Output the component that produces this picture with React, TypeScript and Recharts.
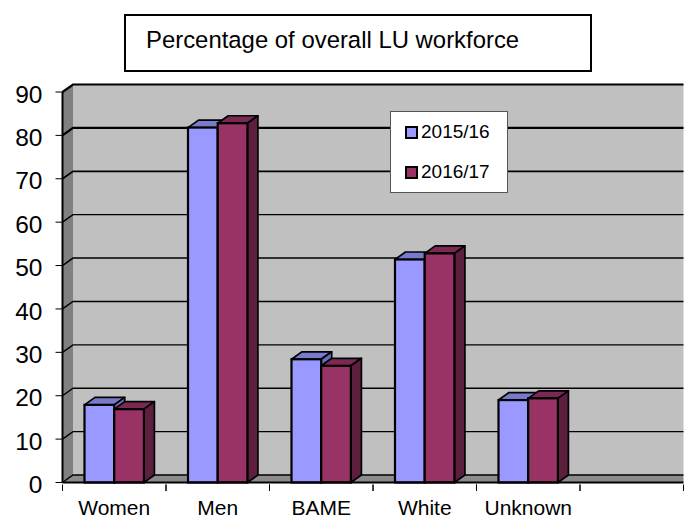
import React from "react";
import { BarChart, Bar, XAxis, YAxis, CartesianGrid, Legend } from "recharts";

const categories = ["Women", "Men", "BAME", "White", "Unknown", ""];
const series2015 = [17.9, 81.8, 28.4, 51.4, 19.0, null];
const series2016 = [16.9, 82.8, 26.9, 52.8, 19.4, null];
const yTicks = [0, 10, 20, 30, 40, 50, 60, 70, 80, 90];
const titleText = "Percentage of overall LU workforce";
const seriesNames = ["2015/16", "2016/17"];

const rows = categories.map((name, i) => ({
  name,
  a: series2015[i],
  b: series2016[i],
}));

const DX = 10.5;
const DY = 7.5;
const FONT = '"Liberation Sans", Arial, sans-serif';

const makeBar = (top: string, side: string) => (p: any) => {
  const { x, y, width: w, height: h, fill } = p;
  if (p.value == null || h == null) return <g />;
  return (
    <g>
      <polygon
        points={`${x},${y} ${x + DX},${y - DY} ${x + w + DX},${y - DY} ${x + w},${y}`}
        fill={top}
        stroke="#000"
        strokeWidth={1.7}
        strokeLinejoin="round"
      />
      <polygon
        points={`${x + w},${y} ${x + w + DX},${y - DY} ${x + w + DX},${y + h - DY} ${x + w},${y + h}`}
        fill={side}
        stroke="#000"
        strokeWidth={1.7}
        strokeLinejoin="round"
      />
      <rect x={x} y={y} width={w} height={h} fill={fill} stroke="#000" strokeWidth={2.2} />
    </g>
  );
};

const gridLine = (p: any) => {
  const { x, y, width, height, y1, index } = p;
  const right = x + width;
  const bottom = y + height;
  const frac = (y1 - y) / height;
  const sw = frac < 0.15 ? 2.2 : frac < 0.25 ? 1.8 : 1.4;
  return (
    <g key={`g-${index}`}>
      {index === 0 && (
        <g>
          <rect x={x + DX} y={y - DY} width={width - DX} height={height} fill="#c0c0c0" />
          <polygon
            points={`${x},${y} ${x + DX},${y - DY} ${x + DX},${bottom - DY} ${x},${bottom}`}
            fill="#808080"
          />
          <polygon
            points={`${x},${bottom} ${x + DX},${bottom - DY} ${right},${bottom - DY} ${right},${bottom}`}
            fill="#8c8c8c"
          />
        </g>
      )}
      <polyline
        points={`${x},${y1} ${x + DX},${y1 - DY} ${right},${y1 - DY}`}
        fill="none"
        stroke="#000"
        strokeWidth={sw}
      />
    </g>
  );
};

const XTick = (p: any) => {
  const { x, y, payload, width } = p;
  const band = (width || 621) / categories.length;
  return (
    <g>
      <line x1={x - band / 2} x2={x - band / 2} y1={y - 6} y2={y + 0.5} stroke="#000" strokeWidth={1} />
      <line x1={x + band / 2} x2={x + band / 2} y1={y - 6} y2={y + 0.5} stroke="#000" strokeWidth={1} />
      <text x={x} y={515 - 0.5} textAnchor="middle" fontFamily={FONT} fontSize={21} fill="#000">
        {payload.value}
      </text>
    </g>
  );
};

const LegendBox = ({ payload }: any) => (
  <div
    style={{
      boxSizing: "border-box",
      width: 118,
      height: 82,
      background: "#fff",
      border: "1px solid #555",
      position: "relative",
      fontFamily: FONT,
      fontSize: 19,
      color: "#000",
    }}
  >
    {(payload || []).map((e: any, i: number) => (
      <div
        key={e.value}
        style={{
          position: "absolute",
          left: 14,
          top: 9 + i * 40.5,
          display: "flex",
          alignItems: "center",
          height: 22,
          whiteSpace: "nowrap",
        }}
      >
        <span
          style={{
            boxSizing: "border-box",
            display: "inline-block",
            width: 13,
            height: 13,
            background: e.color,
            border: "2px solid #000",
            marginRight: 3,
            marginTop: 1,
          }}
        />
        {e.value}
      </div>
    ))}
  </div>
);

export default function App() {
  return (
    <div style={{ position: "absolute", left: 0, top: 0, width: 684, height: 515, overflow: "hidden" }}>
      <BarChart
        width={684}
        height={515}
        data={rows}
        margin={{ top: 92, right: 0.5, bottom: 0, left: 0 }}
        barGap={0}
        barSize={29.7}
      >
        <CartesianGrid vertical={false} horizontal={gridLine} />
        <XAxis
          dataKey="name"
          height={32.5}
          interval={0}
          tick={XTick}
          tickLine={false}
          tickSize={6}
          axisLine={{ stroke: "#000", strokeWidth: 2.2 }}
        />
        <YAxis
          domain={[0, 90]}
          ticks={yTicks}
          width={62.5}
          interval={0}
          tickSize={7}
          tickMargin={13}
          tick={{ fontSize: 24.5, fill: "#000", fontFamily: FONT, dy: 2 }}
          tickLine={{ stroke: "#000", strokeWidth: 1 }}
          axisLine={{ stroke: "#000", strokeWidth: 2 }}
        />
        <Legend
          layout="vertical"
          align="center"
          verticalAlign="middle"
          wrapperStyle={{ left: 390, top: 110.5, width: 118, height: 82, margin: 0, padding: 0 }}
          content={LegendBox}
        />
        <Bar dataKey="a" name={seriesNames[0]} fill="#9999ff" isAnimationActive={false} shape={makeBar("#7a7acc", "#6b6bbf")} />
        <Bar dataKey="b" name={seriesNames[1]} fill="#993366" isAnimationActive={false} shape={makeBar("#7a2952", "#5c1f3d")} />
      </BarChart>
      <div
        style={{
          position: "absolute",
          left: 124,
          top: 14,
          width: 468,
          height: 58,
          boxSizing: "border-box",
          border: "2px solid #000",
          background: "#fff",
          fontFamily: FONT,
          fontSize: 23.9,
          color: "#000",
          paddingLeft: 20,
          paddingTop: 10,
          lineHeight: "28px",
          whiteSpace: "nowrap",
        }}
      >
        {titleText}
      </div>
    </div>
  );
}
